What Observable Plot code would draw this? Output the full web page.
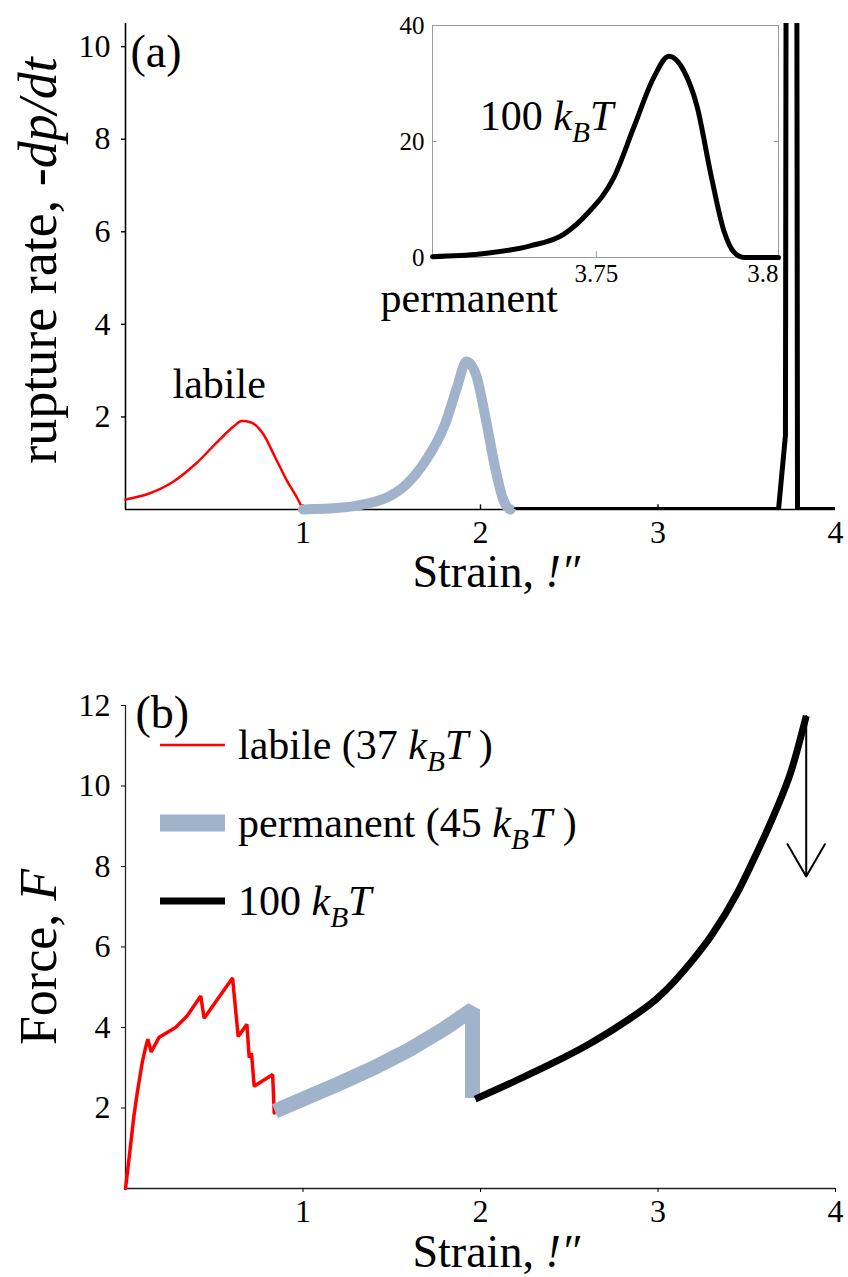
<!DOCTYPE html>
<html>
<head>
<meta charset="utf-8">
<script src="https://cdn.jsdelivr.net/npm/d3@7"></script>
<script src="https://cdn.jsdelivr.net/npm/@observablehq/plot@0.6"></script>
<style>
  html, body { margin: 0; padding: 0; background: #fff; }
  #fig { position: relative; width: 848px; height: 1277px; overflow: hidden; background: #fff; }
  #fig > svg { position: absolute; }
</style>
</head>
<body>
<div id="fig"></div>
<script>
// ---- tick values ----
const strainTicks = [1, 2, 3, 4];
const rateTicks = [2, 4, 6, 8, 10];
const forceTicks = [2, 4, 6, 8, 10, 12];
const insetRateTicks = [0, 20, 40];
const insetStrainTicks = [3.75, 3.8];

// ---- (a) rupture rate vs strain ----
const labileStrainA = [0, 0.129, 0.264, 0.399, 0.533, 0.614, 0.655, 0.708, 0.776, 0.843, 0.91, 0.964, 1.0];
const labileRateA   = [0.215, 0.34, 0.59, 1.0, 1.52, 1.81, 1.91, 1.88, 1.63, 1.13, 0.62, 0.27, 0.0];

const permStrainA = [1.0, 1.207, 1.34, 1.476, 1.584, 1.69, 1.8, 1.867, 1.921, 1.974, 2.028, 2.082, 2.123, 2.15, 2.17];
const permRateA   = [0, 0.036, 0.11, 0.265, 0.55, 1.05, 1.84, 2.63, 3.2, 2.92, 1.99, 0.91, 0.27, 0.05, 0];

const strongStrainA = [2.2, 3.679, 3.718, 3.73, 3.78, 3.786, 4.0];
const strongRateA   = [0, 0, 1.6, 35, 18, 0, 0];

// inset: close-up of the 100 kBT peak
const insetStrain = [3.705, 3.718, 3.7318, 3.741, 3.7474, 3.7548, 3.7603, 3.7658, 3.7699, 3.774, 3.7777, 3.7814, 3.785, 3.7878, 3.7906, 3.8];
const insetRate   = [0.15, 0.6, 2.0, 4.0, 7.5, 13.8, 22.5, 31.1, 34.7, 32.2, 25.9, 14.4, 4.6, 0.9, 0, 0];

// ---- (b) force vs strain ----
const labileStrainB = [0, 0.019, 0.047, 0.066, 0.094, 0.113, 0.126, 0.145, 0.188, 0.282, 0.348, 0.424, 0.443, 0.603, 0.635, 0.684, 0.697, 0.71, 0.725, 0.829, 0.838];
const labileForceB  = [0, 0.71, 1.79, 2.375, 3.125, 3.5, 3.71, 3.39, 3.75, 4.0, 4.29, 4.78, 4.23, 5.23, 3.775, 4.08, 3.25, 3.36, 2.54, 2.83, 1.875];

const permStrainB = [0.842, 1.0, 1.2, 1.4, 1.6, 1.8, 1.955, 1.955];
const permForceB  = [1.92, 2.22, 2.6, 3.0, 3.45, 3.98, 4.45, 2.25];

const strongStrainB = [1.97, 2.2, 2.4, 2.6, 2.8, 3.0, 3.2, 3.3, 3.45, 3.56, 3.66, 3.75, 3.835];
const strongForceB  = [2.22, 2.68, 3.1, 3.56, 4.1, 4.74, 5.7, 6.28, 7.37, 8.37, 9.35, 10.37, 11.74];

// force after the final rupture
const ruptureForceB = 7.75;

// ---- series styling / labels ----
const seriesNames = ["labile", "permanent", "100 kBT"];
const seriesColors = ["#ff0000", "#a0b3cb", "#000000"];
const legendLabels = ["labile (37 *k_{B}T* )", "permanent (45 *k_{B}T* )", "100 *k_{B}T*"];

const rows = (xs, ys) => d3.zip(xs, ys).map(([strain, value]) => ({strain, value}));
const plain = d => `${d}`;

const serif = "'Liberation Serif', 'Times New Roman', serif";
const baseStyle = {fontFamily: serif, fontSize: "32px", background: "transparent", overflow: "visible", color: "#000"};

// ---------------- panel (a) ----------------
const panelA = Plot.plot({
  width: 848, height: 610,
  marginLeft: 125, marginRight: 13, marginTop: 23, marginBottom: 101,
  x: {domain: [0, 4]},
  y: {domain: [0, 10.5]},
  style: baseStyle,
  marks: [
    Plot.ruleY([0], {stroke: "#000", strokeWidth: 1.6}),
    Plot.ruleX([0], {stroke: "#000", strokeWidth: 1.6}),
    Plot.axisY({ticks: rateTicks, tickFormat: plain, tickSize: 4, tickPadding: 11, strokeWidth: 1.4, label: null}),
    Plot.axisX({ticks: strainTicks, tickFormat: plain, tickSize: 0, tickPadding: 11, label: null}),
    Plot.ruleX(strainTicks.filter(t => t < 4), {y1: 0, y2: 0.1, stroke: "#000", strokeWidth: 1.4}),
    Plot.line(rows(labileStrainA, labileRateA), {x: "strain", y: "value", stroke: seriesColors[0], strokeWidth: 2.5, curve: "monotone-x"}),
    Plot.line(rows(permStrainA, permRateA), {x: "strain", y: "value", stroke: seriesColors[1], strokeWidth: 10, curve: "monotone-x"}),
    Plot.line(rows(strongStrainA, strongRateA), {x: "strain", y: "value", stroke: seriesColors[2], strokeWidth: 5, strokeLinejoin: "miter", clip: true}),
    Plot.text([{strain: 0.265, value: 2.41, label: "labile"}], {x: "strain", y: "value", text: "label", textAnchor: "start", lineAnchor: "bottom", fontSize: 42}),
    Plot.text([{strain: 1.437, value: 4.27, label: "permanent"}], {x: "strain", y: "value", text: "label", textAnchor: "start", lineAnchor: "bottom", fontSize: 42}),
    Plot.text(["(a)"], {text: d => d, frameAnchor: "top-left", dx: 5, dy: 43, textAnchor: "start", lineAnchor: "bottom", fontSize: 46}),
    Plot.text(["rupture rate, *-dp/dt*"], {text: d => d, frameAnchor: "left", rotate: -90, dx: -70, dy: -6, textAnchor: "middle", lineAnchor: "bottom", fontSize: 54}),
    Plot.text(["Strain, *!″*"], {text: d => d, frameAnchor: "bottom", dx: -68, dy: 77, textAnchor: "start", lineAnchor: "bottom", fontSize: 46})
  ]
});

// ---------------- inset of panel (a) ----------------
const inset = Plot.plot({
  width: 410, height: 300,
  marginLeft: 52, marginRight: 12, marginTop: 25, marginBottom: 43,
  x: {domain: [3.705, 3.8]},
  y: {domain: [0, 40]},
  style: {...baseStyle, fontSize: "25px"},
  marks: [
    Plot.frame({stroke: "#9a9a9a", strokeWidth: 1}),
    Plot.ruleY(insetRateTicks.slice(1, -1), {x1: 3.705, x2: 3.7062, stroke: "#9a9a9a"}),
    Plot.ruleY(insetRateTicks.slice(1, -1), {x1: 3.7988, x2: 3.8, stroke: "#9a9a9a"}),
    Plot.ruleX(insetStrainTicks.slice(0, 1), {y1: 0, y2: 1, stroke: "#9a9a9a"}),
    Plot.axisY({ticks: insetRateTicks, tickFormat: plain, tickSize: 0, tickPadding: 8, label: null}),
    Plot.axisX({ticks: insetStrainTicks.slice(0, 1), tickFormat: plain, tickSize: 0, tickPadding: 7, label: null}),
    Plot.axisX({ticks: insetStrainTicks.slice(1), tickFormat: plain, tickSize: 0, tickPadding: 7, textAnchor: "end", label: null}),
    Plot.line(rows(insetStrain, insetRate), {x: "strain", y: "value", stroke: "#000", strokeWidth: 5, curve: "monotone-x"}),
    Plot.text([{strain: 3.718, value: 21.9, label: "100 *k_{B}T*"}], {x: "strain", y: "value", text: "label", textAnchor: "start", lineAnchor: "bottom", fontSize: 42})
  ]
});

// ---------------- panel (b) ----------------
const strongRowsB = rows(strongStrainB, strongForceB);
const lastStrong = strongRowsB[strongRowsB.length - 1];

const panelB = Plot.plot({
  width: 848, height: 667,
  marginLeft: 125, marginRight: 13, marginTop: 95, marginBottom: 89,
  x: {domain: [0, 4]},
  y: {domain: [0, 12]},
  style: baseStyle,
  marks: [
    Plot.ruleY([0], {stroke: "#222", strokeWidth: 1.3}),
    Plot.ruleX([0], {stroke: "#222", strokeWidth: 1.3}),
    Plot.axisY({ticks: forceTicks, tickFormat: plain, tickSize: 4, tickPadding: 11, label: null}),
    Plot.axisX({ticks: strainTicks, tickFormat: plain, tickSize: 4, tickPadding: 7, label: null}),
    Plot.line(rows(labileStrainB, labileForceB), {x: "strain", y: "value", stroke: seriesColors[0], strokeWidth: 3.5, strokeLinejoin: "miter"}),
    Plot.line(rows(permStrainB, permForceB), {x: "strain", y: "value", stroke: seriesColors[1], strokeWidth: 15, strokeLinejoin: "miter", strokeLinecap: "butt"}),
    Plot.line(strongRowsB, {x: "strain", y: "value", stroke: seriesColors[2], strokeWidth: 7, strokeLinecap: "butt", curve: "monotone-x"}),
    Plot.arrow([lastStrong], {x1: "strain", y1: "value", x2: "strain", y2: () => ruptureForceB, stroke: "#000", strokeWidth: 2, headLength: 28, headAngle: 60}),
    Plot.text(["(b)"], {text: d => d, frameAnchor: "top-left", dx: 10, dy: 22, textAnchor: "start", lineAnchor: "bottom", fontSize: 46}),
    Plot.text(["Force, *F*"], {text: d => d, frameAnchor: "left", rotate: -90, dx: -70, dy: 10, textAnchor: "middle", lineAnchor: "bottom", fontSize: 52}),
    Plot.text(["Strain, *!″*"], {text: d => d, frameAnchor: "bottom", dx: -68, dy: 78, textAnchor: "start", lineAnchor: "bottom", fontSize: 46})
  ]
});

// ---------------- legend of panel (b) ----------------
const legend = d3.create("svg")
  .attr("width", 848).attr("height", 1277)
  .style("left", "0px").style("top", "0px")
  .style("pointer-events", "none")
  .style("font-family", serif);
const legendWidths = [2.5, 17, 7];
const legendTop = 745, legendStep = 78;
seriesNames.forEach((name, i) => {
  const cy = legendTop + i * legendStep;
  legend.append("line")
    .attr("x1", 160).attr("x2", 225).attr("y1", cy).attr("y2", cy)
    .attr("stroke", seriesColors[i]).attr("stroke-width", legendWidths[i]);
  legend.append("text")
    .attr("x", 238).attr("y", cy + 14)
    .attr("font-size", 42)
    .text(legendLabels[i]);
});

// ---------------- assemble ----------------
const fig = document.getElementById("fig");
function place(el, left, top) {
  el.style.position = "absolute";
  el.style.left = left + "px";
  el.style.top = top + "px";
  fig.appendChild(el);
}
place(panelA, 0, 0);
place(panelB, 0, 610);
place(inset, 380, 0);
place(legend.node(), 0, 0);

// rich text: *...* = italic, _{...} = subscript
function parseRich(s) {
  const segs = [];
  let it = false, sub = false, buf = "";
  const push = () => { if (buf) segs.push({t: buf, it, sub}); buf = ""; };
  for (let i = 0; i < s.length; i++) {
    const c = s[i];
    if (c === "*") { push(); it = !it; }
    else if (c === "_" && s[i + 1] === "{") { push(); sub = true; i++; }
    else if (c === "}" && sub) { push(); sub = false; }
    else buf += c;
  }
  push();
  return segs;
}
d3.select(fig).selectAll("text").each(function() {
  const s = this.textContent;
  if (!/\*|_\{/.test(s)) return;
  const fs = parseFloat(getComputedStyle(this).fontSize);
  const el = d3.select(this);
  el.text(null);
  let shift = 0;
  for (const seg of parseRich(s)) {
    const target = seg.sub ? 0.28 * fs : 0;
    const ts = el.append("tspan").text(seg.t);
    if (seg.it) ts.attr("font-style", "italic");
    if (seg.sub) ts.attr("font-size", (0.7 * fs) + "px");
    if (target !== shift) { ts.attr("dy", target - shift); shift = target; }
  }
});
</script>
</body>
</html>
